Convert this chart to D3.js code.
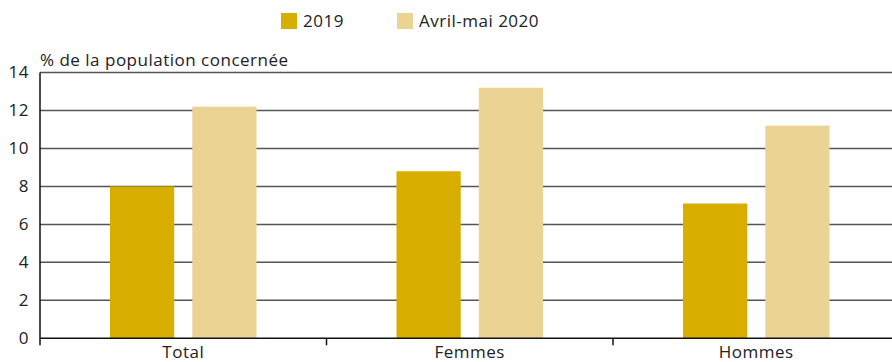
<!DOCTYPE html>
<html>
<head>
<meta charset="utf-8">
<script src="https://cdn.jsdelivr.net/npm/d3@7"></script>
<style>
  html, body { margin: 0; padding: 0; background: #fff; }
  svg { display: block; font-family: "Open Sans", "DejaVu Sans", sans-serif; }
  svg text { letter-spacing: 0.5px; }
</style>
</head>
<body>
<svg id="chart" width="892" height="362"></svg>
<script>
// Population share by group, 2019 vs. April–May 2020
const categories = ["Total", "Femmes", "Hommes"];
const seriesNames = ["2019", "Avril-mai 2020"];
const values2019 = [8.0, 8.8, 7.1];
const values2020 = [12.2, 13.2, 11.2];
const yTicks = [0, 2, 4, 6, 8, 10, 12, 14];
const yTitle = "% de la population concernée";
const colors = ["#D8AF00", "#EBD493"];

const svg = d3.select("#chart");
const W = 892, H = 362;
const mLeft = 40, mRight = 899.5, mTop = 72.5, mBottom = 338.3;
const fontSize = 17;

const seriesValues = [values2019, values2020];
const rows = categories.map((c, i) => ({ cat: c, vals: seriesValues.map(s => s[i]) }));

const x0 = d3.scaleBand().domain(categories).range([mLeft, mRight]).padding(0);
const x1 = d3.scaleBand().domain(seriesNames).range([0, x0.bandwidth()])
  .paddingInner(18 / 82).paddingOuter(0.85);
const y = d3.scaleLinear().domain([0, 14]).range([mBottom, mTop]);

// horizontal gridlines
svg.append("g").selectAll("line").data(yTicks.filter(t => t > 0)).join("line")
  .attr("x1", mLeft).attr("x2", W)
  .attr("y1", d => y(d)).attr("y2", d => y(d))
  .attr("stroke", "#555").attr("stroke-width", 1.5);

// bars
const groups = svg.append("g").selectAll("g").data(rows).join("g")
  .attr("transform", d => `translate(${x0(d.cat)},0)`);
groups.selectAll("rect").data(d => d.vals.map((v, j) => ({ v, s: seriesNames[j], j })))
  .join("rect")
  .attr("x", d => x1(d.s))
  .attr("width", x1.bandwidth())
  .attr("y", d => y(d.v))
  .attr("height", d => y(0) - y(d.v))
  .attr("fill", d => colors[d.j]);

// y axis
const yAxis = d3.axisLeft(y).tickValues(yTicks).tickSize(0).tickPadding(11);
const gy = svg.append("g").attr("transform", `translate(${mLeft},0)`).call(yAxis);
gy.select(".domain").remove();
gy.selectAll("text").attr("font-size", fontSize).attr("fill", "#222")
  .attr("font-family", "'Open Sans', sans-serif");
svg.append("line").attr("x1", mLeft).attr("x2", mLeft)
  .attr("y1", mTop).attr("y2", mBottom + 7)
  .attr("stroke", "#111").attr("stroke-width", 1.5);

// x axis
svg.append("line").attr("x1", mLeft).attr("x2", W)
  .attr("y1", mBottom).attr("y2", mBottom)
  .attr("stroke", "#111").attr("stroke-width", 1.5);
svg.append("g").selectAll("line").data(categories.slice(1)).join("line")
  .attr("x1", d => x0(d)).attr("x2", d => x0(d))
  .attr("y1", mBottom).attr("y2", mBottom + 7)
  .attr("stroke", "#111").attr("stroke-width", 1.5);
svg.append("g").selectAll("text").data(categories).join("text")
  .attr("x", d => x0(d) + x0.bandwidth() / 2)
  .attr("y", 358)
  .attr("text-anchor", "middle")
  .attr("font-size", fontSize).attr("fill", "#222")
  .text(d => d);

// axis title
svg.append("text").attr("x", 40).attr("y", 66)
  .attr("font-size", fontSize).attr("fill", "#222").text(yTitle);

// legend
const legendX = [281, 397];
const lg = svg.append("g").selectAll("g").data(seriesNames).join("g")
  .attr("transform", (d, i) => `translate(${legendX[i]},13)`);
lg.append("rect").attr("width", 16).attr("height", 16).attr("fill", (d, i) => colors[i]);
lg.append("text").attr("x", 22).attr("y", 14).attr("font-size", fontSize).attr("fill", "#222").text(d => d);
</script>
</body>
</html>
